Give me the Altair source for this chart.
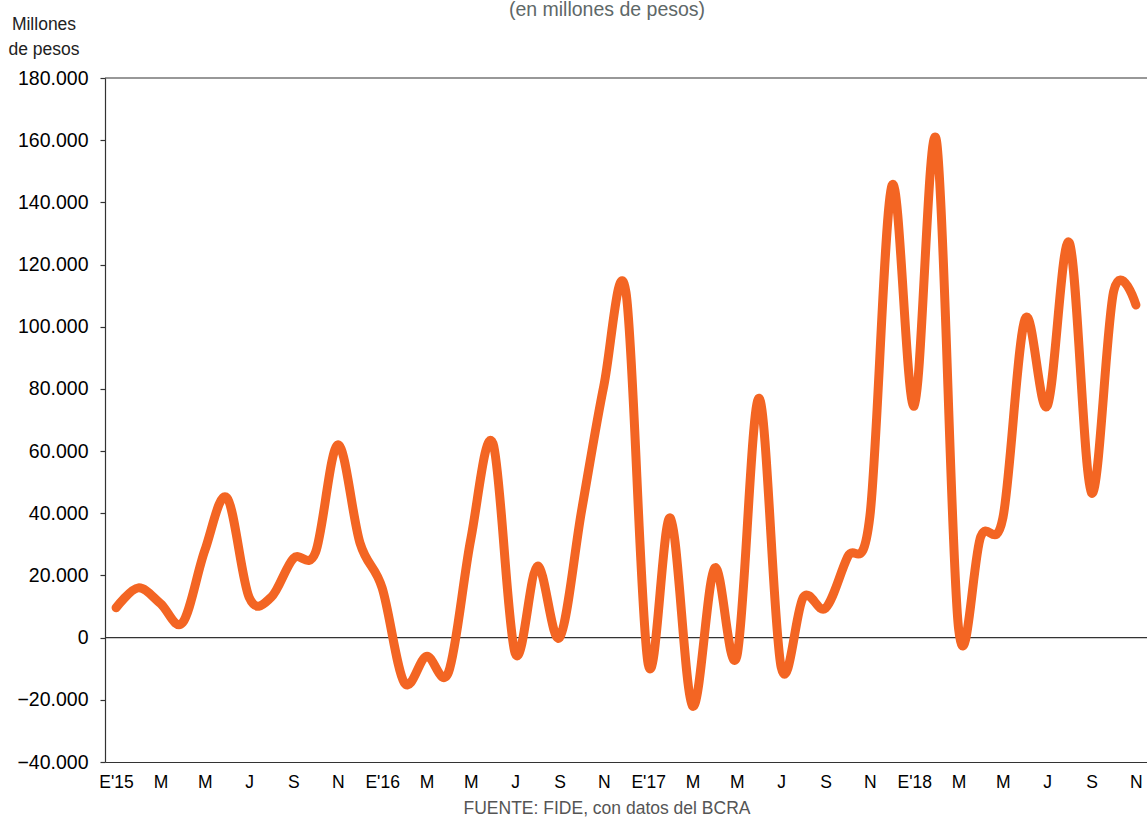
import json
import altair as alt
import pandas as pd

# Monthly values, Jan 2015 - Nov 2018 (millones de pesos)
months = list(range(47))
values = [
    9600, 16000, 11000, 4800, 28000, 45000, 13000, 13000, 25500, 27500, 62000, 30500,
    16000, -14500, -6000, -11000, 31700, 62500, -5000, 23000, 0, 41000, 81000, 111000,
    -8500, 38500, -22000, 22400, -6000, 77000, -9500, 13000, 9500, 26000, 39000, 145500,
    74500, 160000, 3000, 32500, 38500, 102500, 74500, 127000, 46500, 111500, 107000,
]
tick_labels = ["E'15", "M", "M", "J", "S", "N",
               "E'16", "M", "M", "J", "S", "N",
               "E'17", "M", "M", "J", "S", "N",
               "E'18", "M", "M", "J", "S", "N"]
y_ticks = list(range(-40000, 180001, 20000))
ref_lines = [0, 180000]

FONT = "Liberation Sans"
df = pd.DataFrame({"m": months, "v": values})

x_enc = alt.X(
    "m:Q",
    scale=alt.Scale(domain=[-0.5, 46.5], nice=False, zero=False),
    axis=alt.Axis(
        values=list(range(0, 47, 2)),
        labelExpr=f"{json.dumps(tick_labels)}[round(datum.value / 2)]",
        ticks=False, grid=False, domain=True, domainColor="#333333", domainWidth=1.2,
        labelFont=FONT, labelFontSize=17.5, labelColor="#000000", labelPadding=11,
        labelAngle=0, title=None,
    ),
)
y_enc = alt.Y(
    "v:Q",
    scale=alt.Scale(domain=[-40000, 180000], nice=False, zero=False),
    axis=alt.Axis(
        values=y_ticks,
        labelExpr="replace(format(datum.value, ','), ',', '.')",
        grid=False, domain=True, domainColor="#333333", domainWidth=1.2,
        ticks=True, tickSize=5, tickColor="#333333", tickWidth=1.2,
        labelFont=FONT, labelFontSize=19.5, labelColor="#000000", labelPadding=12,
        title=None,
    ),
)

rules = alt.Chart(pd.DataFrame({"v": ref_lines})).mark_rule(
    color="#333333", strokeWidth=1.2
).encode(y=y_enc)

line = alt.Chart(df).mark_line(
    color="#F36523", strokeWidth=9, interpolate="cardinal", strokeCap="round", strokeJoin="round"
).encode(x=x_enc, y=y_enc)


def label(text, x, y, size, color, align="center"):
    return alt.Chart(pd.DataFrame({"t": [text]})).mark_text(
        font=FONT, fontSize=size, color=color, align=align, baseline="alphabetic"
    ).encode(text="t:N", x=alt.value(x), y=alt.value(y))


texts = [
    label("Millones", -61, -48, 17.5, "#222222"),
    label("de pesos", -61, -23, 17.5, "#222222"),
    label("(en millones de pesos)", 502, -62, 19.5, "#5E6868"),
    label("FUENTE: FIDE, con datos del BCRA", 502, 736, 17.5, "#555555"),
]

chart = alt.layer(rules, line, *texts).properties(
    width=1042, height=684,
    autosize=alt.AutoSizeParams(type="none"),
    padding={"left": 105, "top": 78, "right": 0, "bottom": 59},
    background="white",
).configure_view(stroke=None)

chart.save("out.html", embed_options={"renderer": "svg", "actions": False})
